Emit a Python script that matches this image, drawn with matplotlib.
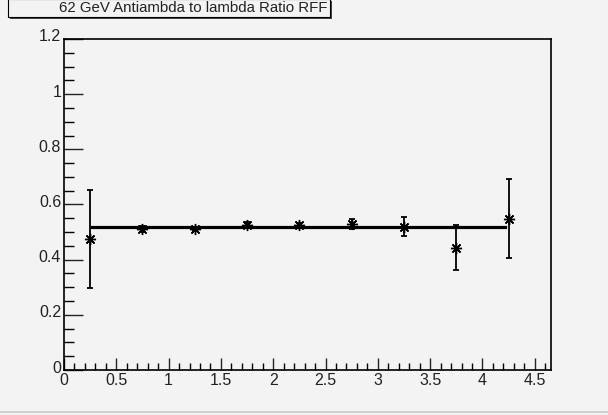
import matplotlib
matplotlib.use('Agg')
import matplotlib.pyplot as plt
import matplotlib.transforms as mtransforms
from matplotlib.ticker import MultipleLocator
from matplotlib.patches import Rectangle

BIN_CENTERS = [0.25, 0.75, 1.25, 1.75, 2.25, 2.75, 3.25, 3.75, 4.25]
RATIO = [0.474, 0.512, 0.512, 0.527, 0.524, 0.530, 0.520, 0.444, 0.549]
RATIO_ERR = [0.178, 0.010, 0.008, 0.008, 0.009, 0.018, 0.035, 0.083, 0.142]
FIT_VALUE = 0.519
FIT_RANGE = [0.27, 4.22]
TITLE = '62 GeV Antiambda to lambda Ratio RFF'

BG = '#f3f3f3'
plt.rcParams['font.family'] = ['Liberation Sans', 'DejaVu Sans']

fig = plt.figure(figsize=(6.08, 4.15), dpi=100, facecolor=BG)
W, H = 608.0, 415.0
ax = fig.add_axes([64 / W, (H - 370) / H, (551 - 64) / W, (370 - 39) / H])
ax.set_facecolor(BG)

ax.plot(FIT_RANGE, [FIT_VALUE, FIT_VALUE], color='black', lw=2.3, zorder=2)
ax.errorbar(BIN_CENTERS, RATIO, yerr=RATIO_ERR, fmt='none', ecolor='black',
            elinewidth=1.3, capsize=2, capthick=1.3, zorder=3)
ax.plot(BIN_CENTERS, RATIO, ls='none', marker=(8, 2, 0), ms=8, mew=1.0,
        color='black', zorder=4)

ax.set_xlim(0, 4.655)
ax.set_ylim(0, 1.2)
ax.xaxis.set_major_locator(MultipleLocator(0.5))
ax.xaxis.set_minor_locator(MultipleLocator(0.1))
ax.yaxis.set_major_locator(MultipleLocator(0.2))
ax.yaxis.set_minor_locator(MultipleLocator(0.05))


def fmt(v, pos):
    return '%g' % round(v, 2)


ax.xaxis.set_major_formatter(plt.FuncFormatter(fmt))
ax.yaxis.set_major_formatter(plt.FuncFormatter(fmt))

ax.tick_params(axis='x', which='major', direction='in', length=9, width=1,
               top=False, labelsize=11.5, pad=2, colors='#222222')
ax.tick_params(axis='x', which='minor', direction='in', length=5, width=1,
               top=False)
ax.tick_params(axis='y', which='major', direction='in', length=14, width=1,
               right=False, labelsize=11.5, pad=2, colors='#222222')
ax.tick_params(axis='y', which='minor', direction='in', length=7, width=1,
               right=False)
for s in ax.spines.values():
    s.set_linewidth(1.2)
    s.set_color('black')

shift = mtransforms.ScaledTranslation(0, 2 / 100.0, fig.dpi_scale_trans)
for lab in ax.get_yticklabels():
    lab.set_verticalalignment('center')
    lab.set_transform(lab.get_transform() + shift)

# title box with shadow
fig.patches.append(Rectangle((10 / W, (H - 19) / H), 322 / W, 18 / H,
                             transform=fig.transFigure, facecolor='#444444',
                             edgecolor='none', zorder=1))
fig.patches.append(Rectangle((8 / W, (H - 17) / H), 322 / W, 18 / H,
                             transform=fig.transFigure, facecolor=BG,
                             edgecolor='black', lw=0.8, zorder=2))
fig.text(193 / W, (H - 8) / H, TITLE, ha='center', va='center', fontsize=10.8,
         color='#222222', zorder=3)

# canvas bottom border
fig.add_artist(plt.Line2D([0, 1], [(H - 411.5) / H] * 2, color='#c8c8c8', lw=1.2,
                          transform=fig.transFigure))

fig.savefig('out.png', dpi=100, facecolor=BG)
